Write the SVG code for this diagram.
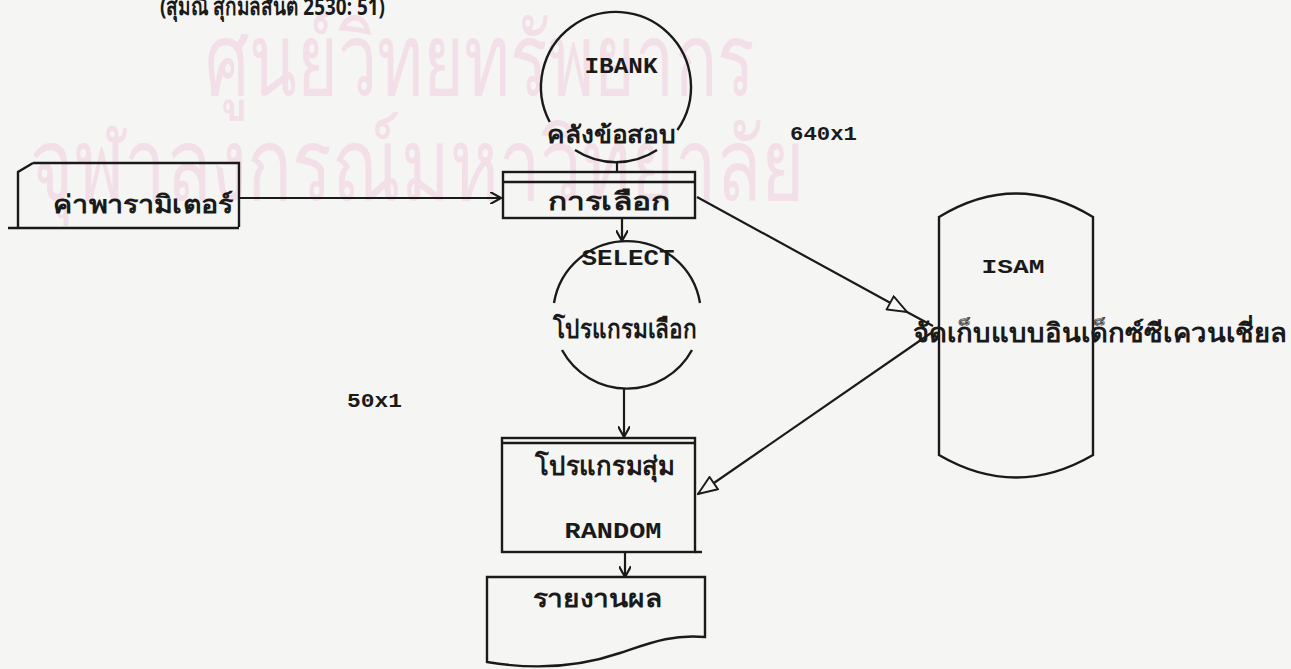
<svg xmlns="http://www.w3.org/2000/svg" width="1291" height="669" viewBox="0 0 1291 669">
<defs>
<style>
.ln{fill:none;stroke:#1a1a1a;stroke-width:2.2}
.sh{fill:none;stroke:#1a1a1a;stroke-width:2.4}
.t{font-family:"Liberation Mono","Noto Sans",monospace;font-weight:bold;fill:#1a1a1a}
.th{font-family:"Noto Sans","Liberation Sans",sans-serif;font-weight:bold;fill:#1a1a1a}
.wm{font-family:"Noto Sans","Liberation Sans",sans-serif;fill:#f2dfe8}
</style>
<marker id="open" viewBox="0 0 10 10" refX="9" refY="5" markerWidth="12" markerHeight="12" markerUnits="userSpaceOnUse" orient="auto">
<path d="M0,0 L9,5 L0,10" fill="none" stroke="#1a1a1a" stroke-width="1.8"/>
</marker>
<marker id="tri" viewBox="0 0 20 16" refX="19" refY="8" markerWidth="22" markerHeight="17" markerUnits="userSpaceOnUse" orient="auto">
<path d="M1,1 L19,8 L1,15 Z" fill="#f6f6f4" stroke="#1a1a1a" stroke-width="1.8"/>
</marker>
</defs>
<rect width="1291" height="669" fill="#f5f5f3"/>
<g id="watermark">
<text class="wm" x="205" y="95" font-size="100" textLength="550" lengthAdjust="spacingAndGlyphs">ศูนย์วิทยทรัพยากร</text>
<text class="wm" x="30" y="200" font-size="100" textLength="775" lengthAdjust="spacingAndGlyphs">จุฬาลงกรณ์มหาวิทยาลัย</text>
</g>
<text class="th" x="160" y="15" font-size="24" textLength="225" lengthAdjust="spacingAndGlyphs">(สุมณี สุกมลสันต์ 2530: 51)</text>
<g id="connectors">
<line class="ln" x1="240" y1="198" x2="501" y2="198" marker-end="url(#open)"/>
<line class="ln" x1="617" y1="162" x2="617" y2="172"/>
<line class="ln" x1="622" y1="218" x2="622" y2="241" marker-end="url(#open)"/>
<line class="ln" x1="624" y1="389" x2="624" y2="437" marker-end="url(#open)"/>
<line class="ln" x1="625" y1="552" x2="625" y2="577" marker-end="url(#open)"/>
<polyline class="ln" points="697,197 907,312 933,326" marker-mid="url(#tri)"/>
<line class="ln" x1="931" y1="333" x2="698" y2="494" marker-end="url(#tri)"/>
</g>
<g id="ibank">
<path class="sh" d="M549.7,122 A75,75 0 1 1 677.4,130"/>
<path class="sh" d="M575,150 A75,75 0 0 0 657,150"/>
<text class="t" x="621" y="73" font-size="22" text-anchor="middle" textLength="73" lengthAdjust="spacingAndGlyphs">IBANK</text>
<text class="th" x="611" y="143" font-size="24" text-anchor="middle" textLength="128" lengthAdjust="spacingAndGlyphs">คลังข้อสอบ</text>
</g>
<g id="label640">
<text class="t" x="790" y="140" font-size="21" textLength="67" lengthAdjust="spacingAndGlyphs">640x1</text>
</g>
<g id="param">
<path class="sh" d="M33,163 H239 V227 M18,228 V172 L33,163 M8,228 H239"/>
<text class="th" x="53" y="213" font-size="25" textLength="180" lengthAdjust="spacingAndGlyphs">ค่าพารามิเตอร์</text>
</g>
<g id="select-box">
<rect class="sh" x="503" y="172" width="192" height="46"/>
<line class="sh" x1="503" y1="182" x2="695" y2="182"/>
<text class="th" x="609" y="210" font-size="25" text-anchor="middle" textLength="122" lengthAdjust="spacingAndGlyphs">การเลือก</text>
</g>
<g id="select-circle">
<path class="sh" d="M554,303 A74,74 0 0 1 700,303"/>
<path class="sh" d="M562,350 A74,74 0 0 0 692,350"/>
<text class="t" x="628" y="265" font-size="22" text-anchor="middle" textLength="93" lengthAdjust="spacingAndGlyphs">SELECT</text>
<text class="th" x="625" y="338" font-size="26" text-anchor="middle" textLength="144" lengthAdjust="spacingAndGlyphs">โปรแกรมเลือก</text>
</g>
<g id="label50">
<text class="t" x="347" y="407" font-size="21" textLength="55" lengthAdjust="spacingAndGlyphs">50x1</text>
</g>
<g id="random">
<rect class="sh" x="502" y="438" width="193" height="114"/>
<line class="sh" x1="502" y1="443" x2="695" y2="443"/>
<line class="sh" x1="695" y1="552" x2="702" y2="552"/>
<text class="th" x="605" y="475" font-size="26" text-anchor="middle" textLength="140" lengthAdjust="spacingAndGlyphs">โปรแกรมสุ่ม</text>
<text class="t" x="613" y="538" font-size="22" text-anchor="middle" textLength="97" lengthAdjust="spacingAndGlyphs">RANDOM</text>
</g>
<g id="report">
<path class="sh" d="M487,577 H705 V637 C672,634 650,643 620,653 C585,665 540,671 487,662 Z"/>
<text class="th" x="597" y="607" font-size="25" text-anchor="middle" textLength="129" lengthAdjust="spacingAndGlyphs">รายงานผล</text>
</g>
<g id="isam">
<path class="sh" d="M939,217 Q1016,170 1093,217 V455 Q1016,500 939,455 Z"/>
<text class="t" x="1013" y="273" font-size="21" text-anchor="middle" textLength="63" lengthAdjust="spacingAndGlyphs">ISAM</text>
<text class="th" x="913" y="342" font-size="26" textLength="374" lengthAdjust="spacingAndGlyphs">จัดเก็บแบบอินเด็กซ์ซีเควนเชี่ยล</text>
</g>
</svg>
